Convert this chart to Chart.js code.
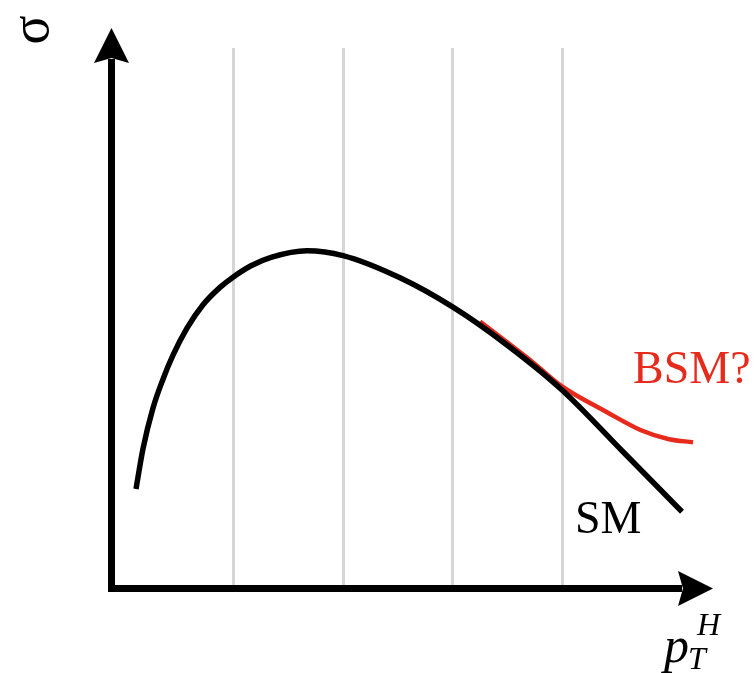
<!DOCTYPE html>
<html>
<head>
<meta charset="utf-8">
<script src="https://cdn.jsdelivr.net/npm/chart.js@4.4.1/dist/chart.umd.min.js"></script>
<style>
  html, body { margin: 0; padding: 0; background: #fff; }
  #wrap { width: 755px; height: 673px; position: relative; }
</style>
</head>
<body>
<div id="wrap"><canvas id="xsec"></canvas></div>
<script>
// pT bins where the vertical guide lines sit
const binEdges = [1.22, 2.32, 3.42, 4.51];

// Standard Model spectrum
const smX = [0.25, 0.32, 0.42, 0.52, 0.62, 0.76, 0.92, 1.09, 1.22, 1.40, 1.60, 1.96, 2.32, 2.89, 3.42, 3.96, 4.51, 5.12, 5.71];
const smY = [1.65, 2.32, 3.00, 3.48, 3.88, 4.33, 4.72, 5.01, 5.18, 5.37, 5.51, 5.62, 5.54, 5.17, 4.68, 4.05, 3.30, 2.27, 1.27];

// possible new-physics excess in the tail
const bsmX = [3.69, 4.22, 4.51, 4.96, 5.30, 5.58, 5.82];
const bsmY = [4.44, 3.76, 3.36, 2.93, 2.63, 2.48, 2.43];

const toPts = (xs, ys) => xs.map((x, i) => ({ x, y: ys[i] }));

const SERIF = '"Liberation Serif", "Times New Roman", Times, serif';
const RED = '#e62a1c';

// arrows, axis names and curve labels
const sketchDeco = {
  id: 'sketchDeco',
  afterDraw(chart) {
    const ctx = chart.ctx;
    const xs = chart.scales.x, ys = chart.scales.y;
    const ox = xs.getPixelForValue(0) + 0.5;
    const oy = ys.getPixelForValue(0) + 0.5;
    const yTip = 28, xTip = 713;
    const head = 35, half = 17.5;

    ctx.save();
    ctx.strokeStyle = '#000';
    ctx.fillStyle = '#000';
    ctx.lineWidth = 7;
    ctx.lineJoin = 'miter';
    ctx.beginPath();
    ctx.moveTo(ox, yTip + head - 4);
    ctx.lineTo(ox, oy);
    ctx.lineTo(xTip - head + 4, oy);
    ctx.stroke();

    // y arrow head
    ctx.beginPath();
    ctx.moveTo(ox, yTip);
    ctx.lineTo(ox + half, yTip + head);
    ctx.lineTo(ox, yTip + head - 5);
    ctx.lineTo(ox - half, yTip + head);
    ctx.closePath();
    ctx.fill();

    // x arrow head
    ctx.beginPath();
    ctx.moveTo(xTip, oy);
    ctx.lineTo(xTip - head, oy - half);
    ctx.lineTo(xTip - head + 5, oy);
    ctx.lineTo(xTip - head, oy + half);
    ctx.closePath();
    ctx.fill();

    // curve labels
    ctx.textAlign = 'left';
    ctx.textBaseline = 'alphabetic';
    ctx.font = '46px ' + SERIF;
    ctx.fillStyle = '#000';
    ctx.fillText('SM', xs.getPixelForValue(4.64), ys.getPixelForValue(0.92));
    ctx.fillStyle = RED;
    ctx.fillText('BSM?', xs.getPixelForValue(5.22), ys.getPixelForValue(3.42));

    // x axis name: p_T^H
    ctx.fillStyle = '#000';
    ctx.font = 'italic 50px ' + SERIF;
    ctx.fillText('p', 664, 662);
    ctx.font = 'italic 32px ' + SERIF;
    ctx.fillText('H', 697, 635);
    ctx.fillText('T', 688, 669);

    // y axis name: sigma, turned on its side
    ctx.translate(36, 30);
    ctx.rotate(-Math.PI / 2);
    ctx.font = '54px ' + SERIF;
    ctx.textAlign = 'center';
    ctx.fillText('σ', 0, 12);
    ctx.restore();
  }
};

function drawChart() {
  new Chart(document.getElementById('xsec'), {
    type: 'scatter',
    data: {
      datasets: [
        {
          label: 'SM',
          data: toPts(smX, smY),
          showLine: true,
          borderColor: '#000',
          borderWidth: 5.5,
          pointRadius: 0,
          cubicInterpolationMode: 'monotone',
          borderCapStyle: 'butt'
        },
        {
          label: 'BSM?',
          data: toPts(bsmX, bsmY),
          showLine: true,
          borderColor: RED,
          borderWidth: 4.5,
          pointRadius: 0,
          cubicInterpolationMode: 'monotone'
        }
      ]
    },
    options: {
      responsive: true,
      maintainAspectRatio: false,
      animation: false,
      layout: { padding: { left: 111, right: 44, top: 48, bottom: 85 } },
      plugins: { legend: { display: false }, tooltip: { enabled: false } },
      scales: {
        x: {
          type: 'linear',
          min: 0,
          max: 6,
          afterBuildTicks: (scale) => { scale.ticks = binEdges.map(v => ({ value: v })); },
          ticks: { display: false },
          border: { display: false },
          grid: { color: '#d6d6d6', lineWidth: 3, drawTicks: false }
        },
        y: {
          type: 'linear',
          min: 0,
          max: 9,
          display: false
        }
      }
    },
    plugins: [sketchDeco]
  });
}

Promise.all([
  document.fonts.load('46px "Liberation Serif"'),
  document.fonts.load('italic 50px "Liberation Serif"')
]).then(drawChart, drawChart);
</script>
</body>
</html>
